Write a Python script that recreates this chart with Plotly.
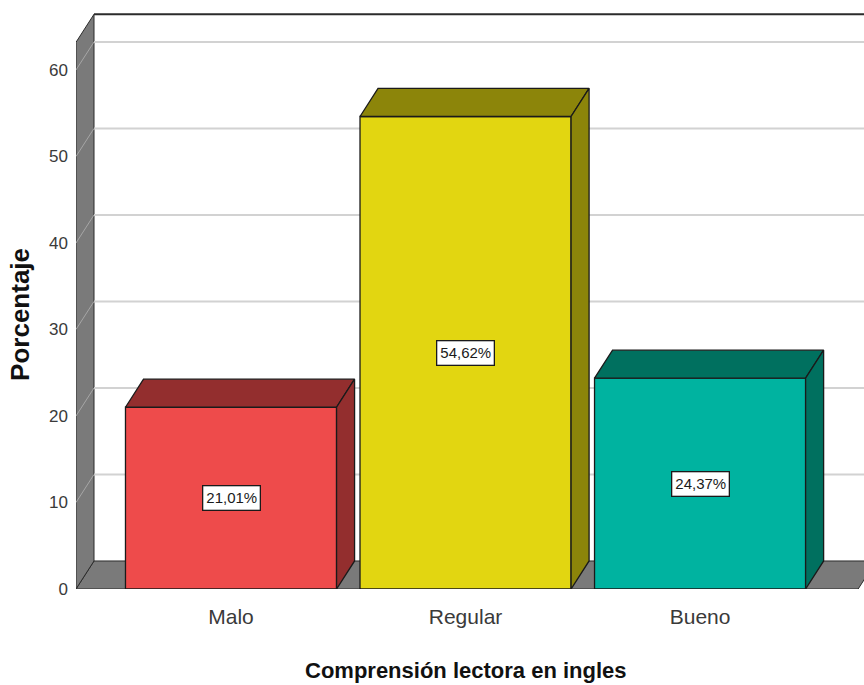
import plotly.graph_objects as go

# Data
categories = ["Malo", "Regular", "Bueno"]
percentages = [21.01, 54.62, 24.37]
front_colors = ["#EE4B4B", "#E2D611", "#00B3A0"]
shade_colors = ["#932E2E", "#8C850A", "#00705F"]
y_ticks = [0, 10, 20, 30, 40, 50, 60]

# 3D look: depth offset of the box faces in axis units
DX = 0.0768
DY = 3.24
BAR_W = 0.9
X_LEFT = -0.661          # front edge of the left wall
X_RIGHT = 2.674          # front right edge of the floor
WALL_TOP = 63.2          # front top of the left wall

FONT = "Liberation Sans, Arial, sans-serif"
WALL_GRAY = "#7A7A7A"
EDGE = "#2B2B2B"

fig = go.Figure()

# Front faces of the bars
fig.add_trace(go.Bar(
    x=list(range(len(categories))),
    y=percentages,
    width=BAR_W,
    marker=dict(color=front_colors, line=dict(color="#1A1A1A", width=1.3)),
    hoverinfo="skip",
    showlegend=False,
))

# Top and side faces of each bar
for i, (v, c) in enumerate(zip(percentages, shade_colors)):
    x0, x1 = i - BAR_W / 2, i + BAR_W / 2
    fig.add_trace(go.Scatter(
        x=[x0, x0 + DX, x1 + DX, x1, x0],
        y=[v, v + DY, v + DY, v, v],
        fill="toself", fillcolor=c, mode="lines",
        line=dict(color="#1A1A1A", width=1.3),
        hoverinfo="skip", showlegend=False,
    ))
    fig.add_trace(go.Scatter(
        x=[x1, x1, x1 + DX, x1 + DX, x1],
        y=[0, v, v + DY, DY, 0],
        fill="toself", fillcolor=c, mode="lines",
        line=dict(color="#1A1A1A", width=1.3),
        hoverinfo="skip", showlegend=False,
    ))

# Value labels in white boxes
for i, v in enumerate(percentages):
    fig.add_annotation(
        x=i, y=v / 2, xref="x", yref="y",
        text=f"{v:.2f}".replace(".", ",") + "%",
        showarrow=False,
        font=dict(family=FONT, size=15, color="#1A1A1A"),
        bgcolor="white", bordercolor="#1A1A1A", borderwidth=1.3, borderpad=3,
    )

shapes = []
# Floor
shapes.append(dict(
    type="path", xref="x", yref="y", layer="below",
    path=f"M {X_LEFT},0 L {X_RIGHT},0 L {X_RIGHT + DX},{DY} L {X_LEFT + DX},{DY} Z",
    fillcolor=WALL_GRAY, line=dict(color=EDGE, width=1),
))
# Left wall
shapes.append(dict(
    type="path", xref="x", yref="y", layer="below",
    path=f"M {X_LEFT},0 L {X_LEFT},{WALL_TOP} L {X_LEFT + DX},{WALL_TOP + DY} "
         f"L {X_LEFT + DX},{DY} Z",
    fillcolor=WALL_GRAY, line=dict(color=EDGE, width=1),
))
# Grid lines on the back wall and their traces across the left wall
for t in y_ticks[1:]:
    shapes.append(dict(
        type="line", xref="x", yref="y", layer="below",
        x0=X_LEFT + DX, x1=3.0, y0=t + DY, y1=t + DY,
        line=dict(color="#D2D2D2", width=2),
    ))
    shapes.append(dict(
        type="line", xref="x", yref="y", layer="below",
        x0=X_LEFT, x1=X_LEFT + DX, y0=t, y1=t + DY,
        line=dict(color="#A6A6A6", width=1),
    ))
# Back wall top edge
shapes.append(dict(
    type="line", xref="x", yref="y", layer="below",
    x0=X_LEFT + DX, x1=3.0, y0=WALL_TOP + DY, y1=WALL_TOP + DY,
    line=dict(color=EDGE, width=2),
))
fig.update_layout(shapes=shapes)

# Axis titles
fig.add_annotation(
    text="<b>Porcentaje</b>", xref="paper", yref="paper", x=0, y=0.475,
    xanchor="center", yanchor="middle", xshift=-56, textangle=-90,
    showarrow=False, font=dict(family=FONT, size=26, color="#111111"),
)
fig.add_annotation(
    text="<b>Comprensión lectora en ingles</b>", xref="paper", yref="paper",
    x=0.495, y=-0.142, xanchor="center", yanchor="middle",
    showarrow=False, font=dict(family=FONT, size=22, color="#111111"),
)

fig.update_layout(
    width=864, height=685,
    margin=dict(l=76, r=0, t=12, b=96),
    paper_bgcolor="white", plot_bgcolor="white",
    bargap=0.1,
    xaxis=dict(
        range=[X_LEFT, 2.699],
        tickvals=list(range(len(categories))), ticktext=categories,
        showgrid=False, zeroline=False, showline=False, ticks="",
        tickfont=dict(family=FONT, size=21, color="#3A3A3A"),
        ticklabelstandoff=13,
    ),
    yaxis=dict(
        range=[0, 66.7],
        tickvals=y_ticks,
        showgrid=False, zeroline=False, showline=False, ticks="",
        tickfont=dict(family=FONT, size=17, color="#3A3A3A"),
        ticklabelstandoff=7,
    ),
)

fig.write_html("out.html")
